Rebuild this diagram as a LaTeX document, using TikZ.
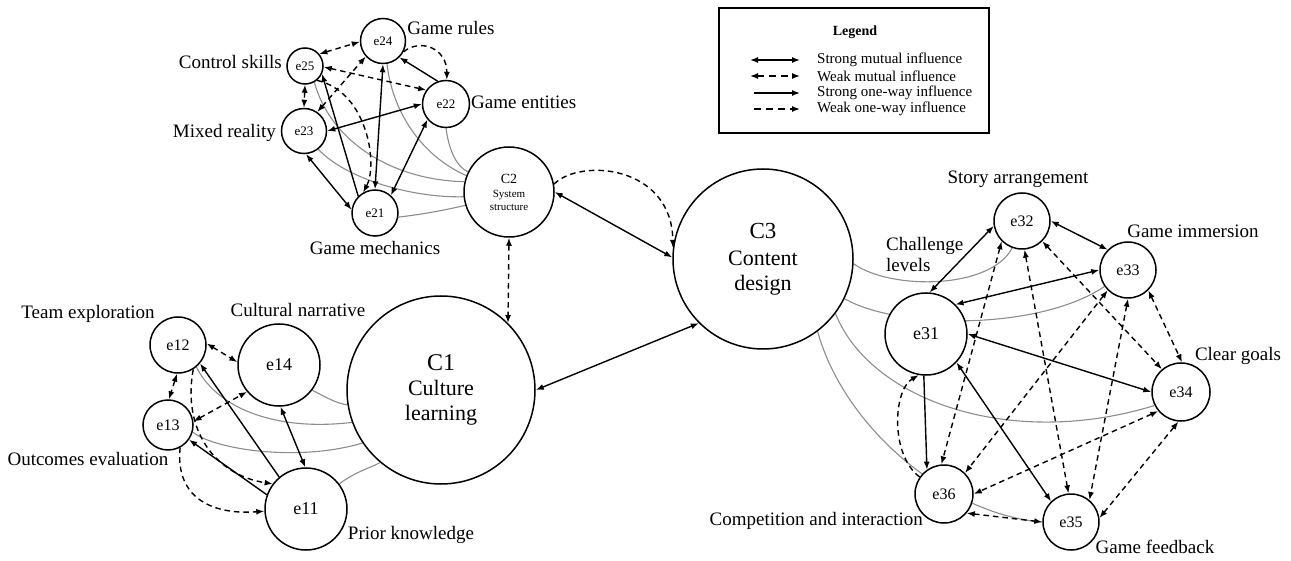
\documentclass[tikz,border=0pt]{standalone}
\usepackage{fontspec}
\setmainfont{Liberation Serif}
\usetikzlibrary{arrows.meta,backgrounds}
\begin{document}
\begin{tikzpicture}[x=1pt,y=-1pt,
  >={Latex[length=8pt,width=6pt]},
  nd/.style={circle,draw=black,line width=1.5pt,fill=white,inner sep=0pt,align=center},
  lab/.style={font=\fontsize{19}{22}\selectfont,inner sep=0pt},
  conn/.style={line width=1.4pt},
  dsh/.style={dash pattern=on 5.5pt off 4pt},
  smut/.style={conn,<->},
  wmut/.style={conn,dsh,<->},
  sone/.style={conn,->},
  wone/.style={conn,dsh,->},
  gl/.style={draw=black!45,line width=1.1pt},
  legtxt/.style={anchor=west,inner sep=0pt,font=\fontsize{15}{17}\selectfont}
]
\useasboundingbox (0,0) rectangle (1291,561);

% ---------- hubs ----------
\node[nd,minimum size=90pt,font=\fontsize{11}{13}\selectfont] (C2) at (509,192)
  {{\fontsize{14}{14}\selectfont C2}\\[1pt]System\\structure};
\node[nd,minimum size=188pt,font=\fontsize{22}{25}\selectfont] (C1) at (441,390)
  {{\fontsize{24}{24}\selectfont C1}\\Culture\\learning};
\node[nd,minimum size=180pt,font=\fontsize{22}{25}\selectfont] (C3) at (763,259)
  {{\fontsize{23}{23}\selectfont C3}\\[2pt]Content\\design};

% ---------- C2 cluster ----------
\node[nd,minimum size=45pt,font=\fontsize{13}{13}\selectfont] (e24) at (383,41) {e24};
\node[nd,minimum size=36pt,font=\fontsize{13}{13}\selectfont] (e25) at (305,66) {e25};
\node[nd,minimum size=47pt,font=\fontsize{13}{13}\selectfont] (e22) at (446,104) {e22};
\node[nd,minimum size=45pt,font=\fontsize{13}{13}\selectfont] (e23) at (304,131) {e23};
\node[nd,minimum size=46pt,font=\fontsize{13}{13}\selectfont] (e21) at (375,213) {e21};

% ---------- C1 cluster ----------
\node[nd,minimum size=56pt,font=\fontsize{16}{16}\selectfont] (e12) at (178,345) {e12};
\node[nd,minimum size=50pt,font=\fontsize{16}{16}\selectfont] (e13) at (168,425) {e13};
\node[nd,minimum size=82pt,font=\fontsize{18}{18}\selectfont] (e14) at (279,365) {e14};
\node[nd,minimum size=82pt,font=\fontsize{18}{18}\selectfont] (e11) at (306,509) {e11};

% ---------- C3 cluster ----------
\node[nd,minimum size=82pt,font=\fontsize{18}{18}\selectfont] (e31) at (926,334) {e31};
\node[nd,minimum size=56pt,font=\fontsize{16}{16}\selectfont] (e32) at (1022,221) {e32};
\node[nd,minimum size=56pt,font=\fontsize{16}{16}\selectfont] (e33) at (1128,270) {e33};
\node[nd,minimum size=58pt,font=\fontsize{16}{16}\selectfont] (e34) at (1181,392) {e34};
\node[nd,minimum size=58pt,font=\fontsize{16}{16}\selectfont] (e36) at (944,494) {e36};
\node[nd,minimum size=56pt,font=\fontsize{16}{16}\selectfont] (e35) at (1071,522) {e35};

% ---------- labels ----------
\node[lab] (lGR) at (451,28) {Game rules};
\node[lab,anchor=east] (lCS) at (282,62) {Control skills};
\node[lab,anchor=west] (lGE) at (471,102) {Game entities};
\node[lab,anchor=east] (lMR) at (276,133) {Mixed reality};
\node[lab] (lGM) at (375,248) {Game mechanics};
\node[lab] (lTE) at (88,314) {Team exploration};
\node[lab] (lCN) at (298,310) {Cultural narrative};
\node[lab] (lOE) at (88,459) {Outcomes evaluation};
\node[lab] (lPK) at (411,535) {Prior knowledge};
\node[lab] (lSA) at (1018,179) {Story arrangement};
\node[lab] (lGI) at (1193,231) {Game immersion};
\node[lab,anchor=west,align=left,font=\fontsize{19}{21}\selectfont] (lCL) at (886,255) {Challenge\\levels};
\node[lab] (lCG) at (1238,356) {Clear goals};
\node[lab] (lGF) at (1155,547) {Game feedback};
\node[lab,anchor=east] (lCI) at (923,521) {Competition and interaction};

% ---------- grey hub links (behind nodes) ----------
\begin{scope}[on background layer]
\draw[gl] (e21.-10) .. controls (425,214) and (445,210) .. (C2.197);
\draw[gl] (e23.-52) .. controls (345,178) and (410,198) .. (C2.186);
\draw[gl] (e25.-60) .. controls (330,140) and (390,180) .. (C2.167);
\draw[gl] (e24.-80) .. controls (392,110) and (420,155) .. (C2.159);
\draw[gl] (e22.-90) .. controls (449,150) and (456,166) .. (C2.154);

\draw[gl] (e14.-37) .. controls (325,397) and (338,404) .. (C1.189);
\draw[gl] (e12.-50) .. controls (215,405) and (270,432) .. (C1.200);
\draw[gl] (e13.-16) .. controls (215,450) and (300,462) .. (C1.214);
\draw[gl] (e11.37) .. controls (355,472) and (370,468) .. (C1.230);

\draw[gl] (C3.-3) .. controls (890,290) and (990,290) .. (e32.-110);
\draw[gl] (C3.-26) .. controls (900,330) and (1040,330) .. (e33.215);
\draw[gl] (C3.-37) .. controls (870,400) and (1010,450) .. (e34.207);
\draw[gl] (C3.-53) .. controls (845,430) and (950,515) .. (e35.180);
\end{scope}

% ---------- C2 cluster links ----------
\draw[wmut] (e25.40) -- (e24.182);
\draw[wone] (e24.-28) .. controls (420,38) and (447,48) .. (e22.88);
\draw[sone] (e22.110) -- (e24.-45);
\draw[wmut] (e25.-3) -- (e22.145);
\draw[wmut] (e23.55) -- (e24.222);
\draw[wmut] (e25.-90) -- (e23.90);
\draw[wone] (e25.-50) .. controls (368,92) and (378,165) .. (e21.120);
\draw[sone] (e21.135) -- (e25.-25);
\draw[smut] (e24.-90) -- (e21.90);
\draw[smut] (e23.0) -- (e22.180);
\draw[smut] (e23.-85) -- (e21.172);
\draw[smut] (e22.220) -- (e21.48);

% ---------- hub links ----------
\draw[wmut] (C2.-90) -- (C1.45);
\draw[smut] (C1.0) -- (C3.225);
\draw[smut] (C2.0) -- (C3.179);
\draw[wone] (C2.10) .. controls (580,158) and (672,165) .. (C3.173);

% ---------- C1 cluster links ----------
\draw[wmut] (e12.3) -- (e14.176);
\draw[wmut] (e12.-92) -- (e13.88);
\draw[wmut] (e13.8) -- (e14.220);
\draw[wone] (e12.-58) .. controls (182,430) and (215,475) .. (e11.143);
\draw[sone] (e11.130) -- (e12.-40);
\draw[smut] (e14.-88) -- (e11.91);
\draw[sone] (e11.160) -- (e13.-35);
\draw[wone] (e13.-62) .. controls (175,500) and (215,515) .. (e11.183);

% ---------- C3 cluster links ----------
\draw[smut] (e31.85) -- (e32.190);
\draw[smut] (e32.0) -- (e33.135);
\draw[smut] (e31.45) -- (e33.180);
\draw[smut] (e31.0) -- (e34.180);
\draw[sone] (e31.-93) -- (e36.125);
\draw[wone] (e36.145) .. controls (890,455) and (893,390) .. (e31.-100);
\draw[smut] (e31.-43) -- (e35.134);
\draw[wmut] (e32.225) -- (e36.95);
\draw[wmut] (e32.-85) -- (e35.95);
\draw[wmut] (e32.-45) -- (e34.130);
\draw[wmut] (e33.225) -- (e36.45);
\draw[wmut] (e33.-90) -- (e35.50);
\draw[wmut] (e33.-45) -- (e34.88);
\draw[wmut] (e34.220) -- (e36.0);
\draw[wmut] (e34.-95) -- (e35.8);
\draw[wmut] (e36.-40) -- (e35.180);

% ---------- legend ----------
\node[draw,line width=2.2pt,minimum width=270pt,minimum height=125pt,inner sep=0pt] (legbox) at (854,70.5) {};
\node[inner sep=0pt,font=\bfseries\fontsize{14}{16}\selectfont] (legt) at (855,32) {Legend};
\coordinate (a1) at (750,60);  \coordinate (b1) at (800,60);
\coordinate (a2) at (750,76);  \coordinate (b2) at (800,76);
\coordinate (a3) at (754,93);  \coordinate (b3) at (800,93);
\coordinate (a4) at (754,109); \coordinate (b4) at (800,109);
\draw[smut] (a1) -- (b1);
\draw[wmut,dash pattern=on 7pt off 5pt] (a2) -- (b2);
\draw[sone] (a3) -- (b3);
\draw[wone,dash pattern=on 7pt off 5pt] (a4) -- (b4);
\node[legtxt] (t1) at (817,60) {Strong mutual influence};
\node[legtxt] (t2) at (817,76) {Weak mutual influence};
\node[legtxt] (t3) at (817,93) {Strong one-way influence};
\node[legtxt] (t4) at (817,109) {Weak one-way influence};
\end{tikzpicture}
\end{document}
